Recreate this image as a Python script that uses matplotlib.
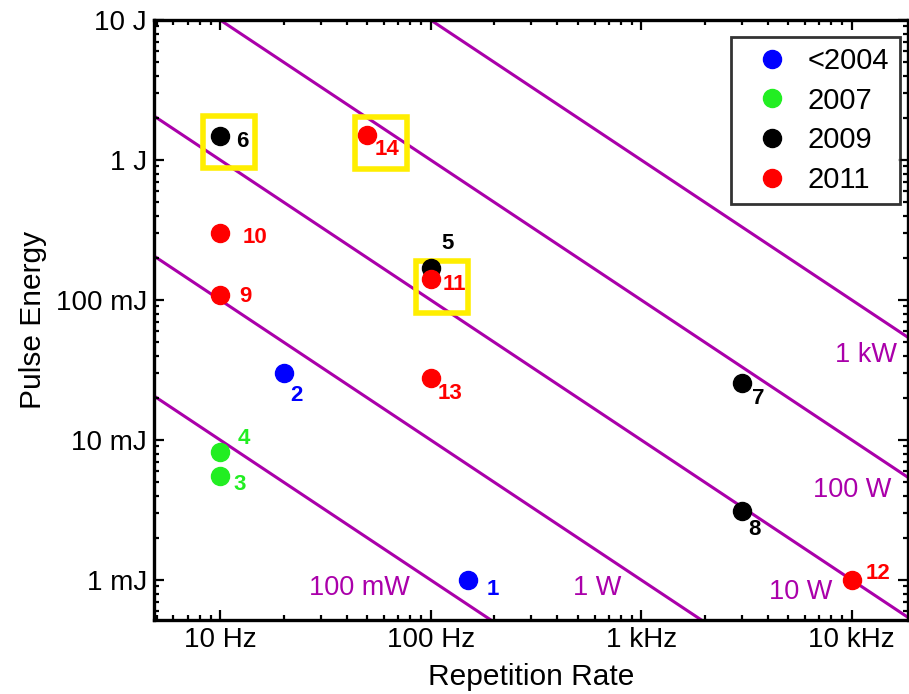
import numpy as np
import matplotlib.pyplot as plt
from matplotlib.lines import Line2D
from matplotlib.ticker import FixedLocator, LogLocator, NullFormatter

plt.switch_backend('Agg')
plt.rcParams['font.family'] = ['Liberation Sans', 'DejaVu Sans']

# --- data: repetition rate (Hz), pulse energy (J), year group ---
ids = [1, 2, 3, 4, 5, 6, 7, 8, 9, 10, 11, 12, 13, 14]
rate_hz = [150, 20, 10, 10, 100, 10, 3000, 3000, 10, 10, 100, 10000, 100, 50]
energy_j = [0.001, 0.030, 0.0055, 0.0082, 0.168, 1.48, 0.0255, 0.0031,
            0.108, 0.30, 0.141, 0.001, 0.0275, 1.52]
group = ['<2004', '<2004', '2007', '2007', '2009', '2009', '2009', '2009',
         '2011', '2011', '2011', '2011', '2011', '2011']
# label offsets (points) of each number from its dot
label_dx = [18, 9, 14, 17, 12, 16, 12, 9, 18, 25, 17, 19, 14, 14]
label_dy = [-7, -16, -6, 10, 18, -4, -11, -13, -1, -3, -4, 5, -11, -11]

groups = ['<2004', '2007', '2009', '2011']
group_colors = ['#0000ff', '#22ee22', '#000000', '#ff0000']

# constant average power lines E = P / f
powers_w = [0.1, 1, 10, 100, 1000]
power_labels = ['100 mW', '1 W', '10 W', '100 W', '1 kW']
power_label_f = [46, 618, 5690, 10040, 11700]
power_label_e = [8.8e-4, 8.8e-4, 8.2e-4, 4.4e-3, 0.0405]

# highlighted systems (box centres)
box_f = [11.0, 58.2, 113.5]
box_e = [1.35, 1.32, 0.124]

xticks = [10, 100, 1000, 10000]
xticklabels = ['10 Hz', '100 Hz', '1 kHz', '10 kHz']
yticks = [0.001, 0.01, 0.1, 1, 10]
yticklabels = ['1 mJ', '10 mJ', '100 mJ', '1 J', '10 J']

xlim = (4.85, 18500)
ylim = (10 ** -3.286, 10)
magenta = '#aa00aa'

fig = plt.figure(figsize=(9.09, 6.94), dpi=100)
ax = fig.add_axes([0.1694, 0.1066, 0.8295, 0.8646])
ax.set_xscale('log')
ax.set_yscale('log')

f = np.logspace(np.log10(xlim[0]), np.log10(xlim[1]), 200)
for p in powers_w:
    ax.plot(f, p / f, color=magenta, lw=2.2, zorder=1)
for lab, lf, le in zip(power_labels, power_label_f, power_label_e):
    ax.text(lf, le, lab, color=magenta, fontsize=19.5, ha='center', va='center')

ax.plot(box_f, box_e, ls='none', marker='s', ms=37.5, mfc='none',
        mec='#ffee00', mew=4, zorder=2)

for g, c in zip(groups, group_colors):
    xs = [r for r, gg in zip(rate_hz, group) if gg == g]
    ys = [e for e, gg in zip(energy_j, group) if gg == g]
    ax.plot(xs, ys, ls='none', marker='o', ms=13, color=c, zorder=3)

for i, r, e, g, dx, dy in zip(ids, rate_hz, energy_j, group, label_dx, label_dy):
    c = group_colors[groups.index(g)]
    ax.annotate(str(i), (r, e), xytext=(dx, dy), textcoords='offset points',
                ha='center', va='center', fontsize=16, fontweight='bold',
                color=c, zorder=4)

ax.set_xlim(*xlim)
ax.set_ylim(*ylim)
ax.xaxis.set_major_locator(FixedLocator(xticks))
ax.set_xticklabels(xticklabels)
ax.yaxis.set_major_locator(FixedLocator(yticks))
ax.set_yticklabels(yticklabels)
ax.xaxis.set_minor_locator(LogLocator(base=10, subs=np.arange(2, 10)))
ax.yaxis.set_minor_locator(LogLocator(base=10, subs=np.arange(2, 10)))
ax.xaxis.set_minor_formatter(NullFormatter())
ax.yaxis.set_minor_formatter(NullFormatter())
ax.tick_params(which='both', direction='in', top=True, right=True,
               labelsize=20, width=1.6, pad=5)
ax.tick_params(which='major', length=7)
ax.tick_params(which='minor', length=3.5)
for s in ax.spines.values():
    s.set_linewidth(2.4)

ax.set_xlabel('Repetition Rate', fontsize=21.5, labelpad=7)
ax.set_ylabel('Pulse Energy', fontsize=21.5, labelpad=6)

handles = [Line2D([], [], ls='none', marker='o', ms=13, color=c) for c in group_colors]
leg = ax.legend(handles, groups, loc='upper right', bbox_to_anchor=(0.989, 0.972),
                borderaxespad=0, fontsize=21, frameon=True, fancybox=False,
                labelspacing=0.4, handletextpad=0.2, borderpad=0.35,
                handlelength=2.1)
leg.get_frame().set_edgecolor('black')
leg.get_frame().set_linewidth(2.0)

fig.savefig('out.png', dpi=100)
